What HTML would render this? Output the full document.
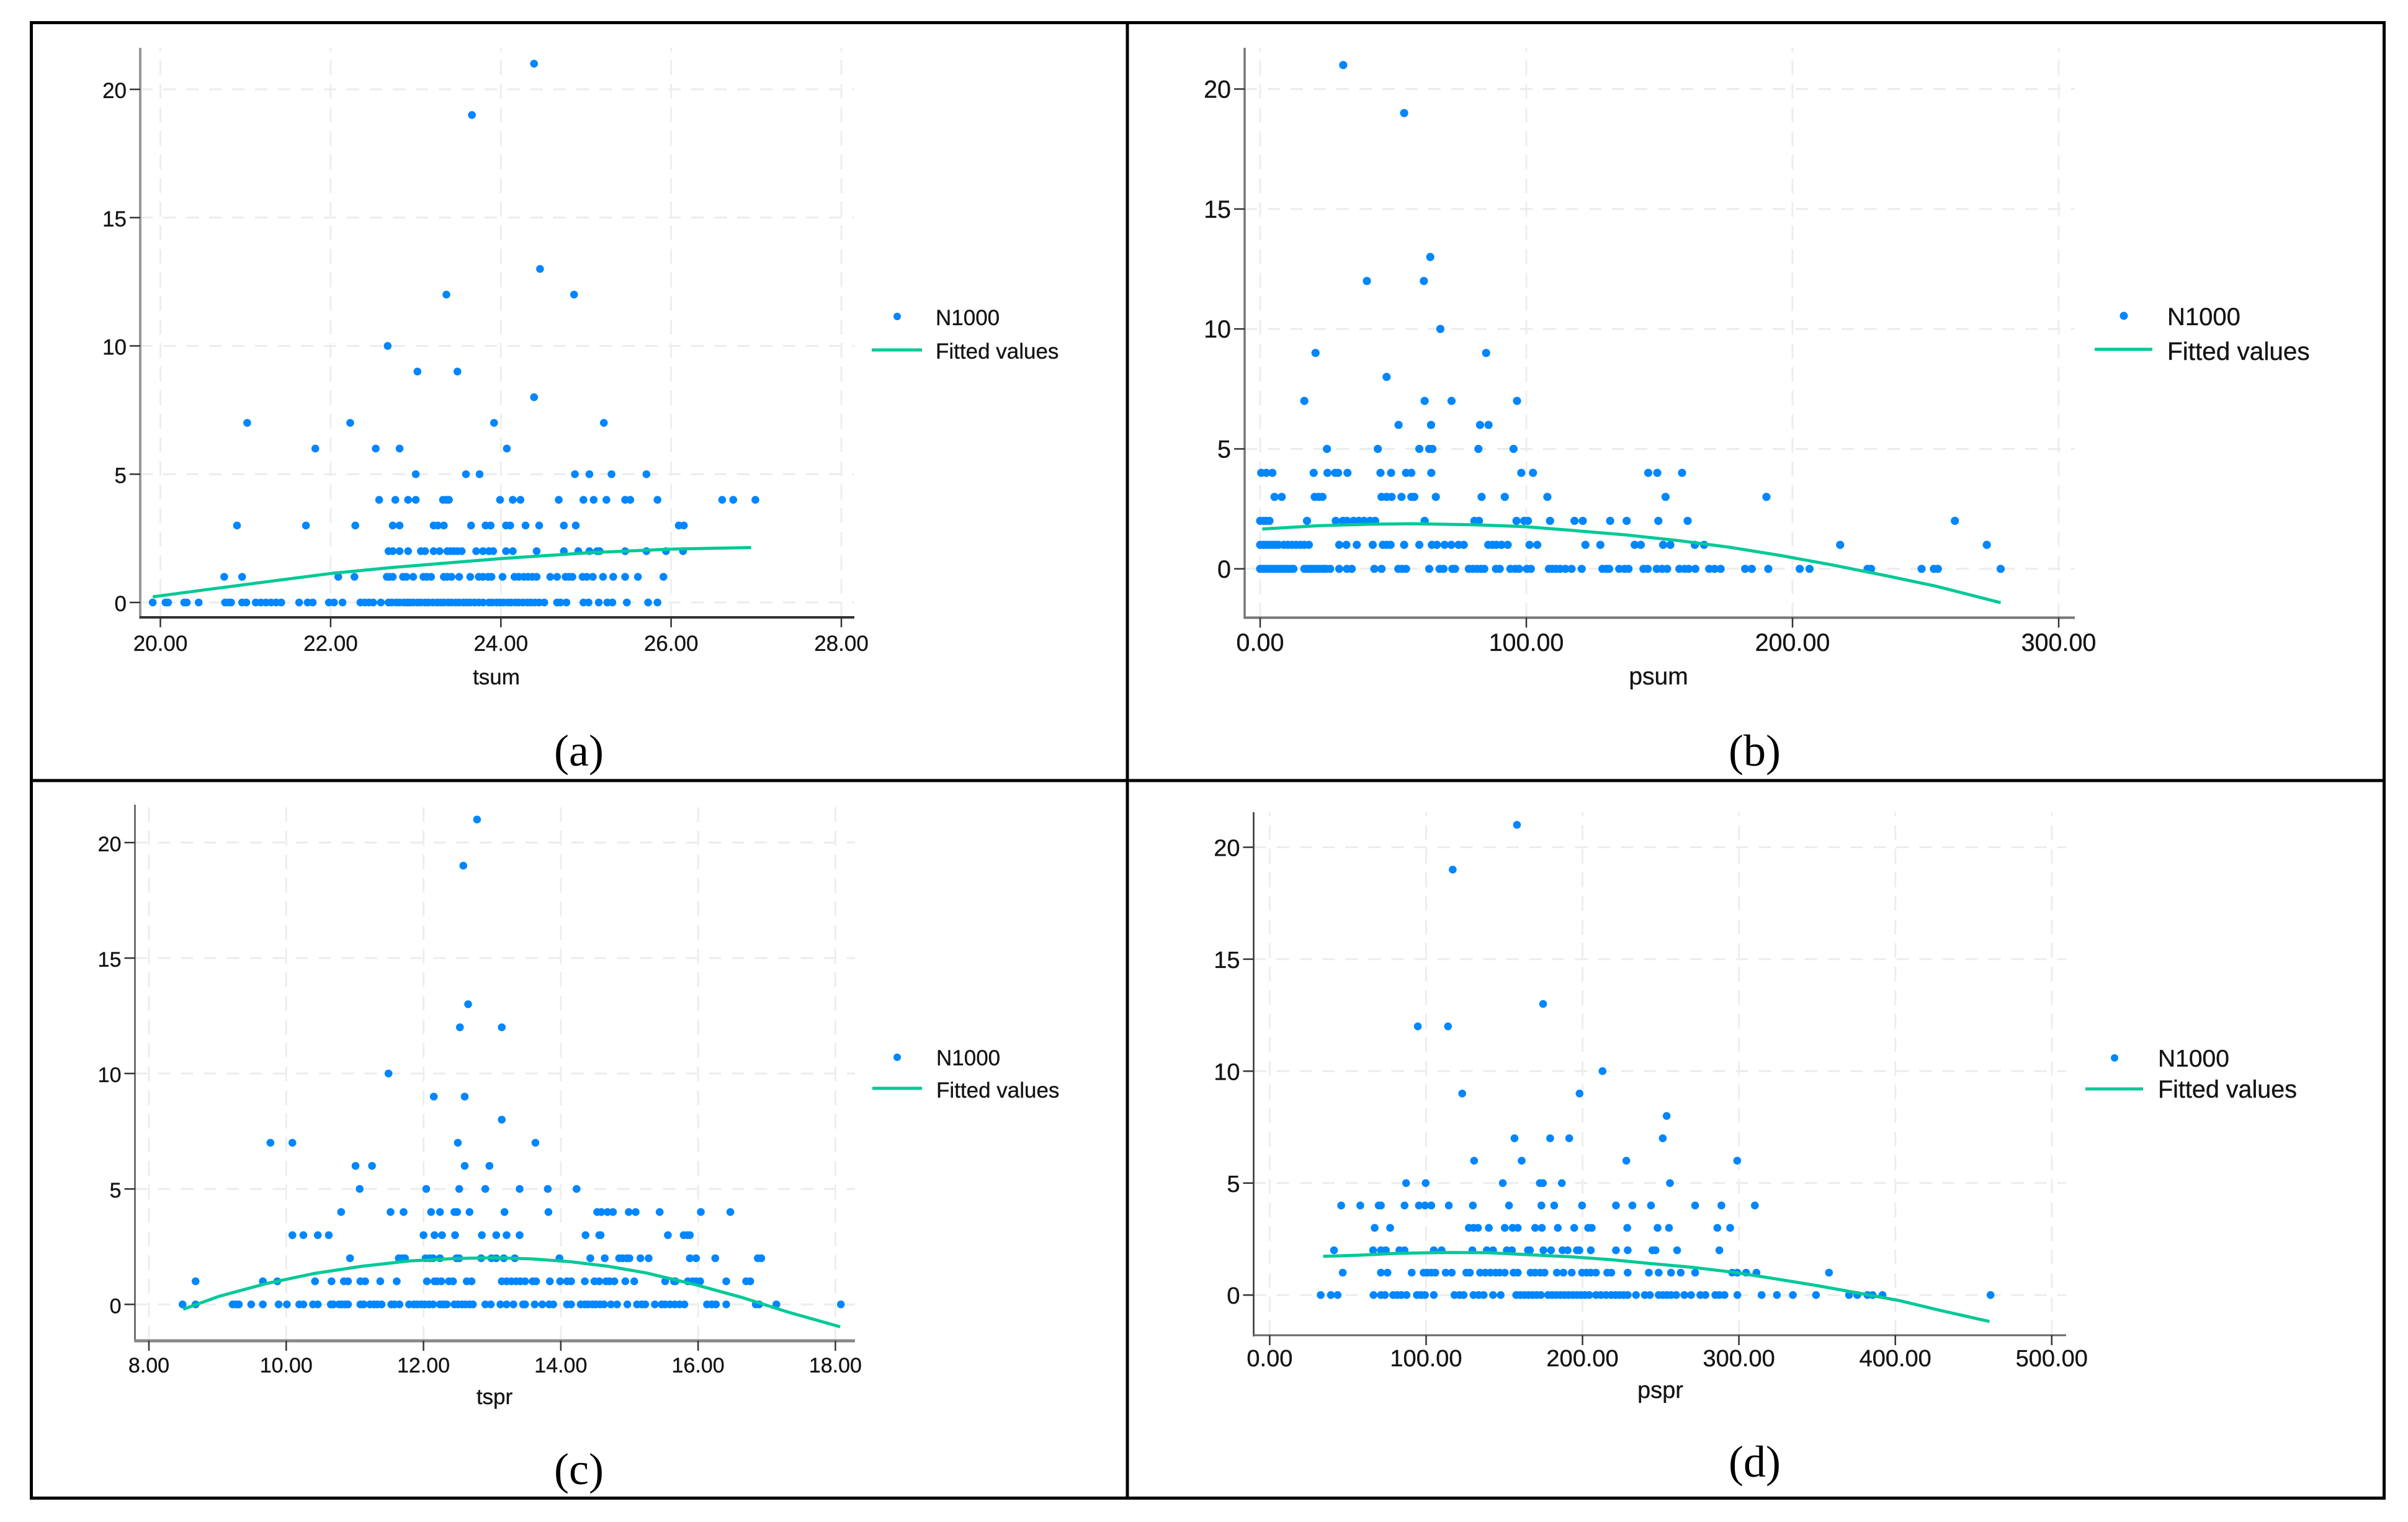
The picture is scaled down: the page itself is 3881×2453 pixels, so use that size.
<!DOCTYPE html>
<html lang="en">
<head>
<meta charset="utf-8">
<title>N1000 scatter plots with fitted values</title>
<style>
html,body{margin:0;padding:0;background:#fff;}
svg{display:block;}
text{font-family:"Liberation Sans",sans-serif;fill:#141414;stroke:#141414;stroke-width:0.35px;}
.cap{font-family:"Liberation Serif",serif;font-size:72px;fill:#000;stroke:none;text-anchor:middle;}
</style>
</head>
<body>
<svg id="figure" xmlns="http://www.w3.org/2000/svg" width="3881" height="2453" viewBox="0 0 3881 2453">
  <rect x="0" y="0" width="3881" height="2453" fill="#fff"/>

  <g id="panel-a"></g>
  <g id="panel-b"></g>
  <g id="panel-c"></g>
  <g id="panel-d"></g>

  <rect x="50.5" y="36.5" width="3792" height="2378" fill="none" stroke="#000" stroke-width="5"/>
  <line x1="1817" y1="36" x2="1817" y2="2415" stroke="#000" stroke-width="5"/>
  <line x1="50" y1="1258" x2="3843" y2="1258" stroke="#000" stroke-width="5"/>

  <g font-size="35">
    <circle cx="1446" cy="510" r="6" fill="#0086ff"/>
    <text x="1508" y="524" font-size="35">N1000</text>
    <line x1="1405" y1="564" x2="1486" y2="564" stroke="#00c996" stroke-width="5"/>
    <text x="1508" y="578" font-size="35">Fitted values</text>
  </g>
  <g>
    <circle cx="3423" cy="509" r="6.5" fill="#0086ff"/>
    <text x="3493" y="524" font-size="40">N1000</text>
    <line x1="3376" y1="563" x2="3469" y2="563" stroke="#00c996" stroke-width="5"/>
    <text x="3493" y="580" font-size="40.5">Fitted values</text>
  </g>
  <g>
    <circle cx="1446" cy="1704" r="6" fill="#0086ff"/>
    <text x="1509" y="1717" font-size="35">N1000</text>
    <line x1="1406" y1="1754" x2="1486" y2="1754" stroke="#00c996" stroke-width="5"/>
    <text x="1509" y="1769" font-size="35">Fitted values</text>
  </g>
  <g>
    <circle cx="3408" cy="1705" r="6" fill="#0086ff"/>
    <text x="3478" y="1719" font-size="39">N1000</text>
    <line x1="3361" y1="1755" x2="3454" y2="1755" stroke="#00c996" stroke-width="5"/>
    <text x="3478" y="1769" font-size="39.5">Fitted values</text>
  </g>

  <text x="800" y="1103" font-size="35" text-anchor="middle">tsum</text>
  <text x="2673" y="1103" font-size="39" text-anchor="middle">psum</text>
  <text x="797" y="2263" font-size="35" text-anchor="middle">tspr</text>
  <text x="2676" y="2253" font-size="38" text-anchor="middle">pspr</text>

  <text class="cap" x="933" y="1234">(a)</text>
  <text class="cap" x="2828" y="1234">(b)</text>
  <text class="cap" x="933" y="2392">(c)</text>
  <text class="cap" x="2828" y="2380">(d)</text>
</svg>

<script>
/* Shared axis values */
const yTickValues = [0, 5, 10, 15, 20];
const nLevels = [0, 1, 2, 3, 4, 5, 6, 7, 8, 9, 10, 12, 13, 19, 21];

/* Panel (a): tsum */
const tsumTicks = [20, 22, 24, 26, 28];
const tsumAtN0 = [19.91,20.06,20.09,20.28,20.31,20.45,20.76,20.80,20.83,20.96,21.01,21.12,21.18,21.24,21.30,21.36,21.42,21.63,21.73,21.79,21.98,22.04,22.14,22.35,22.40,22.45,22.50,22.59,22.68,22.72,22.77,22.81,22.86,22.90,22.93,22.97,23.02,23.06,23.11,23.15,23.20,23.25,23.29,23.33,23.38,23.42,23.47,23.51,23.56,23.60,23.64,23.69,23.74,23.79,23.86,23.90,23.95,23.99,24.03,24.08,24.12,24.17,24.21,24.26,24.31,24.35,24.40,24.45,24.51,24.66,24.70,24.77,24.97,25.03,25.15,25.25,25.31,25.48,25.73,25.84];
const tsumAtN1 = [20.75,20.96,22.09,22.28,22.66,22.69,22.73,22.85,22.89,22.97,23.09,23.13,23.18,23.33,23.37,23.42,23.51,23.64,23.74,23.79,23.85,23.89,24.02,24.16,24.21,24.27,24.32,24.37,24.42,24.58,24.66,24.76,24.80,24.84,24.96,25.01,25.08,25.20,25.32,25.46,25.61,25.91];
const tsumAtN2 = [22.68,22.73,22.81,22.91,23.06,23.11,23.21,23.28,23.37,23.41,23.45,23.49,23.54,23.71,23.79,23.86,23.91,24.06,24.14,24.42,24.74,24.91,25.04,25.13,25.16,25.46,25.71,25.94,26.14];
const tsumAtN3 = [20.90,21.71,22.29,22.73,22.81,23.21,23.26,23.33,23.65,23.82,23.88,24.06,24.11,24.29,24.45,24.74,24.88,26.09,26.15];
const tsumAtN4 = [22.57,22.76,22.91,23.00,23.32,23.36,23.39,23.99,24.14,24.23,24.68,24.97,25.09,25.24,25.46,25.52,25.84,26.60,26.73,26.99];
const tsumAtN5 = [23.00,23.59,23.75,24.87,25.04,25.30,25.71];
const tsumAtN6 = [21.82,22.53,22.81,24.07];
const tsumAtN7 = [21.02,22.23,23.92,25.21];
const tsumAtN8 = [24.39];
const tsumAtN9 = [23.02,23.49];
const tsumAtN10 = [22.67];
const tsumAtN12 = [23.36,24.86];
const tsumAtN13 = [24.46];
const tsumAtN19 = [23.66];
const tsumAtN21 = [24.39];
const tsumFitX = [19.91,20.54,21.16,22.00,22.74,24.00,25.04,26.00,26.94];
const tsumFitY = [0.22,0.50,0.77,1.13,1.37,1.71,1.94,2.08,2.14];

/* Panel (b): psum */
const psumTicks = [0, 100, 200, 300];
const psumAtN0 = [0.0,1.2,2.3,3.5,4.6,5.8,6.9,8.1,9.3,10.4,11.6,12.5,16.6,17.8,18.9,20.1,21.2,22.4,23.6,24.7,26.3,29.7,32.6,34.4,42.9,45.6,51.9,53.3,54.8,63.5,67.4,68.9,72.2,73.2,78.4,79.9,81.5,83.0,84.2,88.6,90.0,94.0,95.8,97.3,100.2,101.7,108.5,109.8,111.2,112.7,114.7,117.0,120.8,128.6,130.1,131.1,134.9,136.9,138.4,144.0,145.6,149.0,151.0,152.9,157.5,159.5,161.0,163.5,168.7,170.7,173.0,182.2,184.7,190.9,202.7,206.4,228.2,229.5,248.5,253.1,254.6,278.2];
const psumAtN1 = [0,1.2,2.3,3.5,4.6,5.8,6.9,8.9,10.4,12.0,13.5,15.1,16.6,18.3,29.7,32.4,36.3,42.3,46.1,47.5,49.0,54.1,59.8,64.5,66.4,69.3,71.8,74.5,76.5,85.7,87.3,88.8,90.7,93.0,101.2,104.1,122.2,127.8,140.7,143.0,151.4,154.1,163.3,166.8,217.9,273.0];
const psumAtN2 = [0,1.2,2.3,3.5,17.6,28.4,31.1,32.6,35.1,37.1,39.0,41.3,43.2,61.8,80.5,82.2,96.3,99.2,100.6,108.9,118.1,121.2,131.5,137.7,149.6,160.6,261.0];
const psumAtN3 = [5.4,8.1,20.5,22.0,23.4,45.6,47.5,49.4,53.1,56.8,57.9,66.0,83.2,91.9,107.9,152.3,190.2];
const psumAtN4 = [0.4,2.3,4.6,20.1,25.3,28.2,29.3,32.8,45.2,49.2,54.8,56.8,64.3,98.1,102.5,145.8,149.2,158.5];
const psumAtN5 = [25.1,44.2,59.8,63.5,64.7,82.0,95.2];
const psumAtN6 = [52.0,64.2,82.6,85.8];
const psumAtN7 = [16.6,61.8,71.9,96.5];
const psumAtN8 = [47.5];
const psumAtN9 = [20.8,84.9];
const psumAtN10 = [67.7];
const psumAtN12 = [40.1,61.5];
const psumAtN13 = [63.9];
const psumAtN19 = [54.1];
const psumAtN21 = [31.2];
const psumFitX = [0.8,22,41.3,56.8,79.9,99.2,118.5,137.8,157,176.4,195.8,215,234.4,253.7,278.2];
const psumFitY = [1.66,1.80,1.86,1.88,1.84,1.76,1.59,1.41,1.18,0.90,0.55,0.16,-0.27,-0.72,-1.41];

/* Panel (c): tspr */
const tsprTicks = [8, 10, 12, 14, 16, 18];
const tsprAtN0 = [8.49,8.68,9.22,9.27,9.31,9.49,9.66,9.89,10.01,10.19,10.25,10.39,10.46,10.65,10.69,10.77,10.81,10.86,10.90,11.08,11.13,11.22,11.28,11.33,11.39,11.53,11.58,11.65,11.79,11.86,11.91,11.97,12.02,12.08,12.14,12.24,12.29,12.34,12.45,12.50,12.56,12.61,12.67,12.72,12.90,12.98,13.12,13.21,13.31,13.45,13.48,13.62,13.73,13.83,13.89,14.09,14.15,14.29,14.35,14.40,14.46,14.51,14.57,14.63,14.73,14.82,14.97,15.11,15.18,15.23,15.37,15.47,15.52,15.59,15.66,15.73,15.80,16.13,16.20,16.26,16.41,16.84,16.89,17.14,18.08];
const tsprAtN1 = [8.68,9.66,9.87,10.42,10.66,10.84,10.90,11.08,11.15,11.37,11.61,12.05,12.16,12.20,12.26,12.37,12.43,12.63,12.70,13.14,13.21,13.28,13.35,13.41,13.48,13.59,13.64,13.84,13.99,14.09,14.15,14.35,14.49,14.56,14.66,14.71,14.78,14.94,15.07,15.52,15.65,15.67,15.85,15.92,15.97,16.03,16.41,16.70,16.76];
const tsprAtN2 = [10.93,11.64,11.69,11.73,12.03,12.09,12.14,12.24,12.48,12.52,12.84,12.99,13.06,13.17,13.33,13.98,14.43,14.64,14.85,14.90,14.96,15.00,15.16,15.28,15.88,15.97,16.25,16.87,16.92];
const tsprAtN3 = [10.09,10.25,10.46,10.62,12.00,12.16,12.27,12.46,12.85,13.06,13.21,13.40,14.36,14.56,14.58,15.56,15.79,15.84,15.88];
const tsprAtN4 = [10.80,11.52,11.71,12.11,12.24,12.45,12.49,12.67,13.18,13.82,14.53,14.59,14.68,14.76,14.99,15.09,15.44,16.04,16.47];
const tsprAtN5 = [11.07,12.04,12.52,12.90,13.40,13.81,14.23];
const tsprAtN6 = [11.01,11.25,12.60,12.96];
const tsprAtN7 = [9.77,10.09,12.50,13.63];
const tsprAtN8 = [13.14];
const tsprAtN9 = [12.15,12.60];
const tsprAtN10 = [11.49];
const tsprAtN12 = [12.53,13.14];
const tsprAtN13 = [12.65];
const tsprAtN19 = [12.58];
const tsprAtN21 = [12.78];
const tsprFitX = [8.50,9.02,9.72,10.41,11.10,11.79,12.48,13.03,13.59,14.14,14.69,15.25,15.94,16.63,17.32,18.07];
const tsprFitY = [-0.21,0.35,0.91,1.34,1.65,1.88,1.99,2.02,1.97,1.85,1.65,1.36,0.87,0.31,-0.34,-0.97];

/* Panel (d): pspr */
const psprTicks = [0, 100, 200, 300, 400, 500];
const psprAtN0 = [32.6,39.1,43.4,66.4,71.1,73.7,78.9,81.6,84.2,87.5,94.1,96.7,99.3,104.9,118.1,121.4,124.0,130.3,133.6,136.8,142.8,147.7,157.6,160.2,162.8,165.5,168.1,170.7,173.4,178.0,180.6,183.2,185.9,188.5,191.1,193.8,196.4,199.0,201.6,204.3,208.6,211.8,215.1,218.4,221.1,223.7,226.3,228.9,234.2,239.8,243.1,248.7,251.3,253.9,256.6,259.9,265.1,269.4,275.3,278.6,284.9,287.5,290.8,299.0,314.5,324.3,334.5,349.3,370.4,375.7,382.2,385.5,391.8,460.9];
const psprAtN1 = [46.7,71.1,75.3,90.8,98.4,100.7,103.3,105.9,112.5,116.4,125.7,128.0,134.5,137.8,141.1,144.4,147.0,150.3,155.9,158.6,166.8,169.7,173.0,175.7,183.6,187.8,193.1,199.7,202.6,205.3,208.6,215.8,218.4,228.9,242.4,248.7,256.6,262.8,272.0,295.7,299.0,304.6,311.2,357.6];
const psprAtN2 = [41.1,66.1,71.1,74.3,82.9,86.2,104.9,109.9,129.6,138.8,142.8,151.6,154.9,165.1,166.4,175.0,179.9,187.2,190.5,196.4,198.0,205.3,221.4,228.9,244.7,246.7,260.5,287.5];
const psprAtN3 = [67.1,77.0,127.3,130.3,133.2,140.1,150.3,155.3,158.6,169.7,174.0,184.2,194.7,203.6,205.9,228.6,248.0,255.3,286.2,294.4];
const psprAtN4 = [45.7,57.9,69.7,71.1,86.2,95.4,99.3,103.3,114.5,129.9,153.0,173.7,181.9,199.7,221.4,231.9,243.8,272.0,288.8,310.2];
const psprAtN5 = [87.2,99.7,149.0,172.7,174.7,186.8,255.9];
const psprAtN6 = [130.7,161.1,228,298.9];
const psprAtN7 = [156.5,179.3,191.5,251.3];
const psprAtN8 = [253.8];
const psprAtN9 = [123.1,198.1];
const psprAtN10 = [212.8];
const psprAtN12 = [94.7,114.0];
const psprAtN13 = [174.8];
const psprAtN19 = [117.0];
const psprAtN21 = [158.1];
const psprFitX = [34.2,57.2,80.3,113.2,139.5,165.8,192.1,218.4,244.7,271.1,297.4,323.7,350,376.3,402.6,428.9,460.2];
const psprFitY = [1.73,1.78,1.86,1.90,1.89,1.80,1.71,1.58,1.40,1.23,1.01,0.72,0.42,0.09,-0.25,-0.69,-1.18];

const SVG_NS = 'http://www.w3.org/2000/svg';

function shape(parent, tag, attrs) {
  const el = document.createElementNS(SVG_NS, tag);
  for (const key in attrs) el.setAttribute(key, attrs[key]);
  parent.appendChild(el);
  return el;
}

function drawPanel(p) {
  const root = document.getElementById('panel-' + p.id);
  const xScale = v => p.xPixA + (v - p.xValA) * (p.xPixB - p.xPixA) / (p.xValB - p.xValA);
  const yScale = v => p.yPix0 + v * (p.yPix20 - p.yPix0) / 20;

  /* grid */
  yTickValues.forEach(v => {
    const g = shape(root, 'line', {x1: p.axisX, x2: p.right, y1: yScale(v), y2: yScale(v), stroke: '#ececec', 'stroke-width': 3, 'stroke-dasharray': '20 17'});
    
    
  });
  p.xTicks.forEach(v => {
    const g = shape(root, 'line', {x1: xScale(v), x2: xScale(v), y1: p.axisY, y2: p.top, stroke: '#eeeeee', 'stroke-width': 3, 'stroke-dasharray': '24 14'});
    
    
  });

  /* axes */
  const yAxis = shape(root, 'line', {x1: p.axisX, x2: p.axisX, y1: p.top, y2: p.axisY + 2, stroke: p.yColor, 'stroke-width': p.yWidth});
  
  
  const xAxis = shape(root, 'line', {x1: p.axisX - 1, x2: p.right, y1: p.axisY, y2: p.axisY, stroke: p.xColor, 'stroke-width': p.xWidth});
  
  

  /* y ticks */
  yTickValues.forEach(v => {
    const t = shape(root, 'line', {x1: p.axisX - 17, x2: p.axisX, y1: yScale(v), y2: yScale(v), stroke: '#333', 'stroke-width': 2.5});
    
    
    const lab = shape(root, 'text', {x: p.axisX - 22, y: yScale(v) + 14, 'font-size': p.font, 'text-anchor': 'end'});
    lab.textContent = String(v);
    
    
  });

  /* x ticks */
  p.xTicks.forEach(v => {
    const t = shape(root, 'line', {x1: xScale(v), x2: xScale(v), y1: p.axisY, y2: p.axisY + 16, stroke: '#333', 'stroke-width': 2.5});
    
    
    const lab = shape(root, 'text', {x: xScale(v), y: p.xLabelY, 'font-size': p.font, 'text-anchor': 'middle'});
    lab.textContent = v.toFixed(2);
    
    
  });

  /* points */
  p.rows.forEach((xs, i) => {
    xs.forEach(x => {
      const c = shape(root, 'circle', {cx: xScale(x), cy: yScale(nLevels[i]), r: p.dot, fill: '#0086ff'});
      
      
    });
  });

  /* fitted curve */
  const pts = p.fitX.map((x, i) => xScale(x).toFixed(1) + ',' + yScale(p.fitY[i]).toFixed(1)).join(' ');
  const fit = shape(root, 'polyline', {points: pts, fill: 'none', stroke: '#00c996', 'stroke-width': 5, 'stroke-linejoin': 'round'});
  
  
}

drawPanel({id: 'a', xTicks: tsumTicks, xValA: 20, xValB: 28, xPixA: 258.5, xPixB: 1356, yPix0: 971, yPix20: 144,
  axisX: 226, axisY: 995, top: 77, right: 1377, xLabelY: 1049, font: 35, dot: 6.3,
  yColor: '#999', yWidth: 4, xColor: '#333', xWidth: 4,
  rows: [tsumAtN0, tsumAtN1, tsumAtN2, tsumAtN3, tsumAtN4, tsumAtN5, tsumAtN6, tsumAtN7, tsumAtN8, tsumAtN9, tsumAtN10, tsumAtN12, tsumAtN13, tsumAtN19, tsumAtN21],
  fitX: tsumFitX, fitY: tsumFitY});

drawPanel({id: 'b', xTicks: psumTicks, xValA: 0, xValB: 300, xPixA: 2031, xPixB: 3318, yPix0: 916.8, yPix20: 143.5,
  axisX: 2006, axisY: 995.5, top: 77, right: 3344, xLabelY: 1049, font: 39.5, dot: 6.6,
  yColor: '#777', yWidth: 3.5, xColor: '#777', xWidth: 4,
  rows: [psumAtN0, psumAtN1, psumAtN2, psumAtN3, psumAtN4, psumAtN5, psumAtN6, psumAtN7, psumAtN8, psumAtN9, psumAtN10, psumAtN12, psumAtN13, psumAtN19, psumAtN21],
  fitX: psumFitX, fitY: psumFitY});

drawPanel({id: 'c', xTicks: tsprTicks, xValA: 8, xValB: 18, xPixA: 240, xPixB: 1346.4, yPix0: 2102.3, yPix20: 1358,
  axisX: 217.5, axisY: 2161, top: 1297, right: 1378, xLabelY: 2212, font: 34, dot: 6.3,
  yColor: '#555', yWidth: 2.5, xColor: '#888', xWidth: 5,
  rows: [tsprAtN0, tsprAtN1, tsprAtN2, tsprAtN3, tsprAtN4, tsprAtN5, tsprAtN6, tsprAtN7, tsprAtN8, tsprAtN9, tsprAtN10, tsprAtN12, tsprAtN13, tsprAtN19, tsprAtN21],
  fitX: tsprFitX, fitY: tsprFitY});

drawPanel({id: 'd', xTicks: psprTicks, xValA: 0, xValB: 400, xPixA: 2046.4, xPixB: 3054.7, yPix0: 2087.2, yPix20: 1365.5,
  axisX: 2020.5, axisY: 2152, top: 1309, right: 3330, xLabelY: 2202, font: 38, dot: 6.3,
  yColor: '#333', yWidth: 2.5, xColor: '#666', xWidth: 3,
  rows: [psprAtN0, psprAtN1, psprAtN2, psprAtN3, psprAtN4, psprAtN5, psprAtN6, psprAtN7, psprAtN8, psprAtN9, psprAtN10, psprAtN12, psprAtN13, psprAtN19, psprAtN21],
  fitX: psprFitX, fitY: psprFitY});
</script>
</body>
</html>
